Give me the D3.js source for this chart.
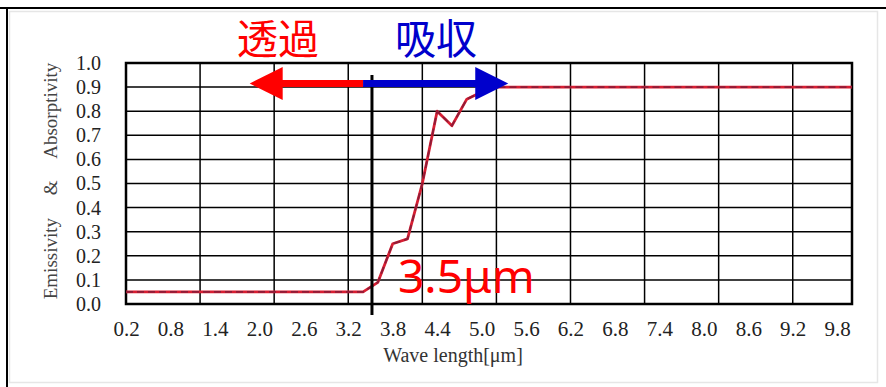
<!DOCTYPE html>
<html>
<head>
<meta charset="utf-8">
<script src="https://cdn.jsdelivr.net/npm/d3@7"></script>
<style>
  html, body { margin: 0; padding: 0; background: #fff; }
  svg { display: block; }
</style>
</head>
<body>
<svg id="chart" width="886" height="387"></svg>
<script>
// Spectral emissivity / absorptivity vs. wavelength
const wavelength = [
  0.2, 0.4, 0.6, 0.8, 1.0, 1.2, 1.4, 1.6, 1.8, 2.0,
  2.2, 2.4, 2.6, 2.8, 3.0, 3.2, 3.4, 3.6, 3.8, 4.0,
  4.2, 4.4, 4.6, 4.8, 5.0, 5.2, 5.4, 5.6, 5.8, 6.0,
  6.2, 6.4, 6.6, 6.8, 7.0, 7.2, 7.4, 7.6, 7.8, 8.0,
  8.2, 8.4, 8.6, 8.8, 9.0, 9.2, 9.4, 9.6, 9.8, 10.0
];
const emissivity = [
  0.05, 0.05, 0.05, 0.05, 0.05, 0.05, 0.05, 0.05, 0.05, 0.05,
  0.05, 0.05, 0.05, 0.05, 0.05, 0.05, 0.05, 0.09, 0.25, 0.27,
  0.50, 0.80, 0.74, 0.85, 0.88, 0.90, 0.90, 0.90, 0.90, 0.90,
  0.90, 0.90, 0.90, 0.90, 0.90, 0.90, 0.90, 0.90, 0.90, 0.90,
  0.90, 0.90, 0.90, 0.90, 0.90, 0.90, 0.90, 0.90, 0.90, 0.90
];
const xTickLabels = ["0.2","0.8","1.4","2.0","2.6","3.2","3.8","4.4","5.0","5.6","6.2","6.8","7.4","8.0","8.6","9.2","9.8"];
const yTickLabels = ["0.0","0.1","0.2","0.3","0.4","0.5","0.6","0.7","0.8","0.9","1.0"];
const xGridValues = [1.2, 2.2, 3.2, 4.2, 5.2, 6.2, 7.2, 8.2, 9.2];
const cutoff = 3.5;           // transmission / absorption boundary [µm]
const cutoffLabel = "3.5μm";
const arrowFrom = 3.4, arrowLeftTo = 1.87, arrowRightTo = 5.36, arrowLevel = 0.915;
const leftLabel = "透過", rightLabel = "吸収";
const xTitle = "Wave length[μm]";
const yTitleWords = ["Emissivity", "&", "Absorptivity"];

const svg = d3.select("#chart");
const plot = { left: 126, right: 852, top: 63, bottom: 304 };

const x = d3.scaleLinear().domain([0.2, 10.0]).range([plot.left, plot.right]);
const y = d3.scaleLinear().domain([0, 1]).range([plot.bottom, plot.top]);

const serif = "'Liberation Serif', 'Times New Roman', serif";

// outer frame
svg.append("rect").attr("x", 9.5).attr("y", 11.5).attr("width", 868).attr("height", 371)
  .attr("fill", "none").attr("stroke", "#e6e6e6").attr("stroke-width", 1.5);
svg.append("line").attr("x1", 0).attr("x2", 886).attr("y1", 8).attr("y2", 8)
  .attr("stroke", "#000").attr("stroke-width", 2);
svg.append("line").attr("x1", 7).attr("x2", 7).attr("y1", 8).attr("y2", 387)
  .attr("stroke", "#000").attr("stroke-width", 2);

// gridlines
const grid = svg.append("g").attr("stroke", "#000").attr("stroke-width", 1.5);
grid.selectAll("line.h").data(yTickLabels.slice(1, -1).map(Number)).join("line")
  .attr("class", "h")
  .attr("x1", plot.left).attr("x2", plot.right)
  .attr("y1", d => y(d)).attr("y2", d => y(d));
grid.selectAll("line.v").data(xGridValues).join("line")
  .attr("class", "v")
  .attr("y1", plot.top).attr("y2", plot.bottom)
  .attr("x1", d => x(d)).attr("x2", d => x(d));

// plot border
svg.append("rect")
  .attr("x", plot.left).attr("y", plot.top)
  .attr("width", plot.right - plot.left).attr("height", plot.bottom - plot.top)
  .attr("fill", "none").attr("stroke", "#000").attr("stroke-width", 2.5);

// y axis labels
const yAxis = d3.axisLeft(y)
  .tickValues(yTickLabels.map(Number))
  .tickFormat(d3.format(".1f"))
  .tickSize(0).tickPadding(0);
const gy = svg.append("g").attr("transform", `translate(${plot.left - 25},0)`).call(yAxis);
gy.select(".domain").remove();
gy.selectAll("text").attr("font-family", serif).attr("font-size", 20).attr("fill", "#222");

// x axis labels
const xAxis = d3.axisBottom(x)
  .tickValues(xTickLabels.map(Number))
  .tickFormat(d3.format(".1f"))
  .tickSize(0).tickPadding(0);
const gx = svg.append("g").attr("transform", `translate(0,${plot.bottom + 17})`).call(xAxis);
gx.select(".domain").remove();
gx.selectAll("text").attr("font-family", serif).attr("font-size", 21).attr("fill", "#222");

// axis titles
svg.append("text")
  .attr("x", 453).attr("y", 362)
  .attr("text-anchor", "middle")
  .attr("font-family", serif).attr("font-size", 20).attr("fill", "#333")
  .text(xTitle);
svg.append("text")
  .attr("transform", "translate(57,181) rotate(-90)")
  .attr("text-anchor", "middle")
  .attr("font-family", serif).attr("font-size", 19).attr("fill", "#444")
  .attr("word-spacing", 18)
  .text(yTitleWords.join(" "));

// data line: solid red with dark dashed overlay
const line = d3.line().x((d, i) => x(wavelength[i])).y(d => y(d));
svg.append("path").datum(emissivity)
  .attr("d", line).attr("fill", "none")
  .attr("stroke", "#d81e32").attr("stroke-width", 2.8).attr("stroke-linejoin", "round");
svg.append("path").datum(emissivity)
  .attr("d", line).attr("fill", "none")
  .attr("stroke", "#8e1c38").attr("stroke-width", 1.8)
  .attr("stroke-dasharray", "7,4").attr("stroke-linejoin", "round");

// cutoff marker
svg.append("line")
  .attr("x1", x(cutoff) + 1.5).attr("x2", x(cutoff) + 1.5)
  .attr("y1", 75).attr("y2", 315)
  .attr("stroke", "#000").attr("stroke-width", 3);

// arrows
function arrow(from, to, color) {
  const x0 = x(from), x1 = x(to), yy = y(arrowLevel);
  const dir = Math.sign(x1 - x0);
  const headLen = 33, headHalf = 16.5;
  const g = svg.append("g");
  g.append("line")
    .attr("x1", x0).attr("x2", x1 - dir * headLen + dir * 2)
    .attr("y1", yy).attr("y2", yy)
    .attr("stroke", color).attr("stroke-width", 7);
  g.append("path")
    .attr("d", `M${x1},${yy} L${x1 - dir * headLen},${yy - headHalf} L${x1 - dir * headLen},${yy + headHalf} Z`)
    .attr("fill", color);
}
arrow(arrowFrom, arrowLeftTo, "#ff0000");
arrow(arrowFrom, arrowRightTo, "#0000cc");

// annotations
const cjk = "'Noto Sans CJK JP', 'Noto Sans CJK SC', sans-serif";
svg.append("text")
  .attr("x", 278).attr("y", 54).attr("text-anchor", "middle")
  .attr("font-family", cjk).attr("font-size", 41).attr("fill", "#ff0000")
  .text(leftLabel);
svg.append("text")
  .attr("x", 436).attr("y", 54).attr("text-anchor", "middle")
  .attr("font-family", cjk).attr("font-size", 41).attr("fill", "#0000cc")
  .text(rightLabel);
svg.append("text")
  .attr("x", 398).attr("y", 293)
  .attr("font-family", "'Noto Sans', 'Open Sans', sans-serif").attr("font-size", 46).attr("fill", "#ff0000")
  .text(cutoffLabel);
</script>
</body>
</html>
